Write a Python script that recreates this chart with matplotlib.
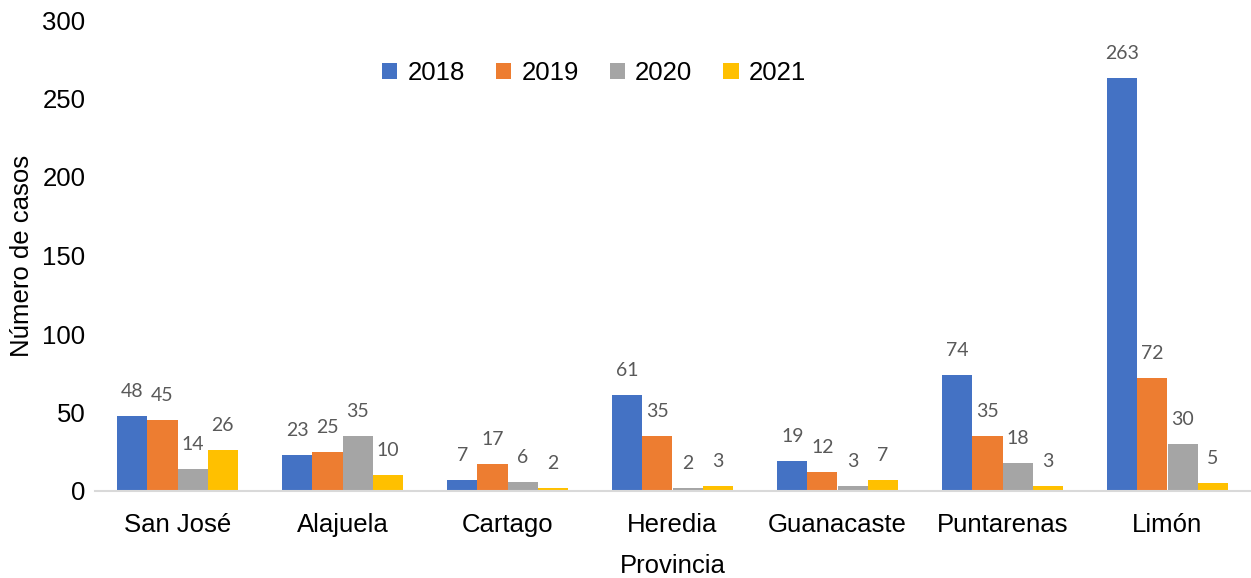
import numpy as np
import matplotlib.pyplot as plt

provincias = ['San José', 'Alajuela', 'Cartago', 'Heredia', 'Guanacaste', 'Puntarenas', 'Limón']
anios = ['2018', '2019', '2020', '2021']
casos_2018 = [48, 23, 7, 61, 19, 74, 263]
casos_2019 = [45, 25, 17, 35, 12, 35, 72]
casos_2020 = [14, 35, 6, 2, 3, 18, 30]
casos_2021 = [26, 10, 2, 3, 7, 3, 5]
colores = ['#4472C4', '#ED7D31', '#A5A5A5', '#FFC000']

plt.rcParams['font.family'] = ['Liberation Sans', 'DejaVu Sans']

fig = plt.figure(figsize=(12.51, 5.78), dpi=100)
ax = fig.add_axes([95 / 1251, (578 - 491) / 578, 1155 / 1251, 471 / 578])

x = np.arange(len(provincias))
ancho = 0.182
series = [casos_2018, casos_2019, casos_2020, casos_2021]
for i, (datos, color, anio) in enumerate(zip(series, colores, anios)):
    pos = x + (i - 1.5) * ancho
    ax.bar(pos, datos, ancho, color=color, label=anio)
    for xb, v in zip(pos, datos):
        ax.annotate(str(v), (xb, v), xytext=(0, 11.5), textcoords='offset points',
                    ha='center', va='bottom', fontsize=14, color='#595959',
                    family=['Lato', 'DejaVu Sans'])

ax.set_xlim(-0.5, len(provincias) - 0.5)
ax.set_ylim(0, 300)
ax.set_yticks(range(0, 301, 50))
ax.set_xticks(x)
ax.set_xticklabels(provincias)
ax.tick_params(axis='both', length=0, labelsize=18.5, colors='black')
ax.tick_params(axis='x', pad=16)
ax.tick_params(axis='y', pad=7)

for s in ['top', 'right', 'left']:
    ax.spines[s].set_visible(False)
ax.spines['bottom'].set_color('#D9D9D9')
ax.spines['bottom'].set_linewidth(1.5)

ax.set_xlabel('Provincia', fontsize=18.5, labelpad=12)
ax.set_ylabel('Número de casos', fontsize=18.5, labelpad=6)

ax.legend(loc='center', bbox_to_anchor=(0.432, 0.887), ncol=4, frameon=False,
          fontsize=18.5, handlelength=0.6, handleheight=0.6, handletextpad=0.4,
          columnspacing=1.2)

fig.savefig('out.png', dpi=100)
